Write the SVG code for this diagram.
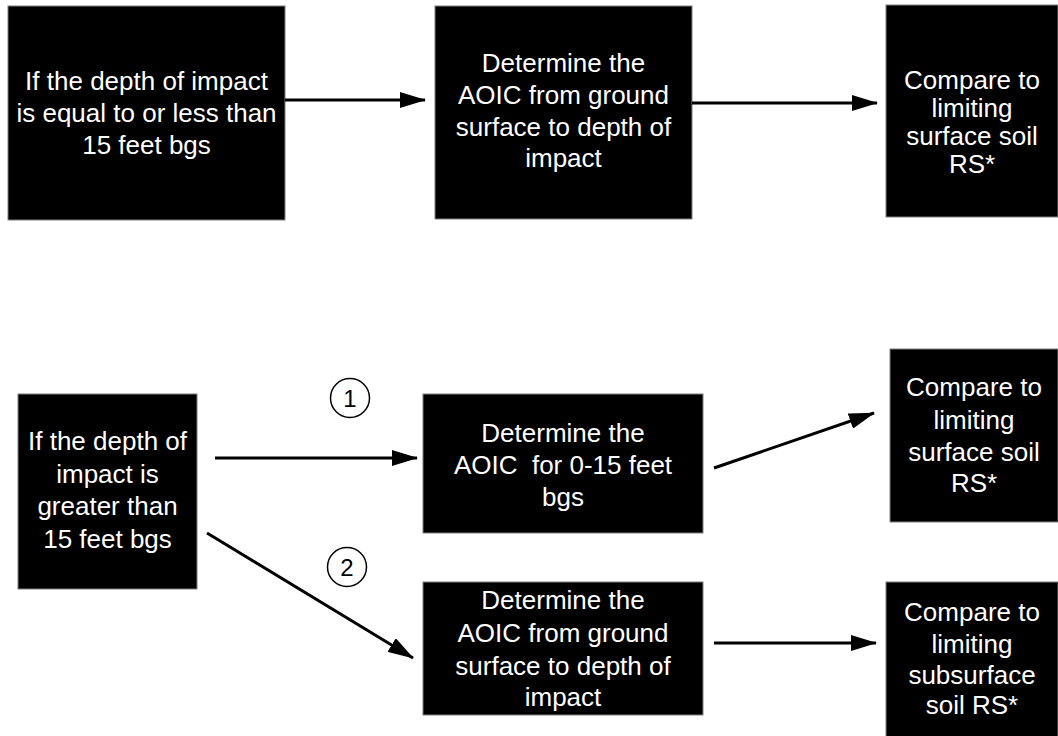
<svg xmlns="http://www.w3.org/2000/svg" width="1058" height="736" viewBox="0 0 1058 736">
<style>
.box{fill:#000;stroke:#7f7f7f;stroke-width:1}
.t{fill:#fff;font-family:"Liberation Sans",Arial,sans-serif;font-size:26px;text-anchor:middle;white-space:pre}
.c{fill:#fff;stroke:#000;stroke-width:1.5}
.ct{fill:#000;font-family:"Liberation Sans",Arial,sans-serif;font-size:24px;text-anchor:middle}
.e{stroke:#000;stroke-width:3;fill:none;marker-end:url(#ah)}
</style>
<defs>
<marker id="ah" markerUnits="userSpaceOnUse" markerWidth="26" markerHeight="16" refX="25" refY="8" orient="auto" viewBox="0 0 26 16">
<path d="M0,0 L26,8 L0,16 z" fill="#000"/>
</marker>
</defs>
<rect width="1058" height="736" fill="#fff"/>
<g id="n1"><rect class="box" x="8" y="6" width="277" height="214"/>
<text class="t"><tspan x="146.5" y="90">If the depth of impact</tspan><tspan x="146.5" y="122">is equal to or less than</tspan><tspan x="146.5" y="154">15 feet bgs</tspan></text></g>
<g id="n2"><rect class="box" x="435" y="6" width="257" height="213"/>
<text class="t"><tspan x="563.5" y="72">Determine the</tspan><tspan x="563.5" y="104">AOIC from ground</tspan><tspan x="563.5" y="136">surface to depth of</tspan><tspan x="563.5" y="167">impact</tspan></text></g>
<g id="n3"><rect class="box" x="886" y="5" width="172" height="212"/>
<text class="t"><tspan x="972" y="89">Compare to</tspan><tspan x="972" y="117">limiting</tspan><tspan x="972" y="145">surface soil</tspan><tspan x="972" y="173">RS*</tspan></text></g>
<g id="n4"><rect class="box" x="18" y="394" width="179" height="195"/>
<text class="t"><tspan x="107.5" y="450">If the depth of</tspan><tspan x="107.5" y="483">impact is</tspan><tspan x="107.5" y="515">greater than</tspan><tspan x="107.5" y="548">15 feet bgs</tspan></text></g>
<g id="n5"><rect class="box" x="423" y="394" width="280" height="139"/>
<text class="t"><tspan x="563" y="442">Determine the</tspan><tspan x="563" y="474">AOIC  for 0-15 feet</tspan><tspan x="563" y="506">bgs</tspan></text></g>
<g id="n6"><rect class="box" x="423" y="582" width="280" height="133"/>
<text class="t"><tspan x="563" y="609">Determine the</tspan><tspan x="563" y="642">AOIC from ground</tspan><tspan x="563" y="675">surface to depth of</tspan><tspan x="563" y="706">impact</tspan></text></g>
<g id="n7"><rect class="box" x="890" y="349" width="168" height="173"/>
<text class="t"><tspan x="974" y="396">Compare to</tspan><tspan x="974" y="429">limiting</tspan><tspan x="974" y="461">surface soil</tspan><tspan x="974" y="492">RS*</tspan></text></g>
<g id="n8"><rect class="box" x="886" y="582" width="172" height="160"/>
<text class="t"><tspan x="972" y="621">Compare to</tspan><tspan x="972" y="653">limiting</tspan><tspan x="972" y="684">subsurface</tspan><tspan x="972" y="714">soil RS*</tspan></text></g>
<g id="connectors">
<line class="e" x1="285" y1="100" x2="425" y2="100"/>
<line class="e" x1="692" y1="103" x2="877" y2="103"/>
<line class="e" x1="215" y1="458" x2="417" y2="458"/>
<line class="e" x1="714" y1="468" x2="874" y2="413"/>
<line class="e" x1="207" y1="533" x2="413" y2="658"/>
<line class="e" x1="714" y1="643" x2="876" y2="643"/>
</g>
<g id="label1"><circle class="c" cx="350" cy="398" r="19.5"/><text class="ct" x="350" y="407">1</text></g>
<g id="label2"><circle class="c" cx="347" cy="567" r="19.5"/><text class="ct" x="347" y="576">2</text></g>
</svg>
